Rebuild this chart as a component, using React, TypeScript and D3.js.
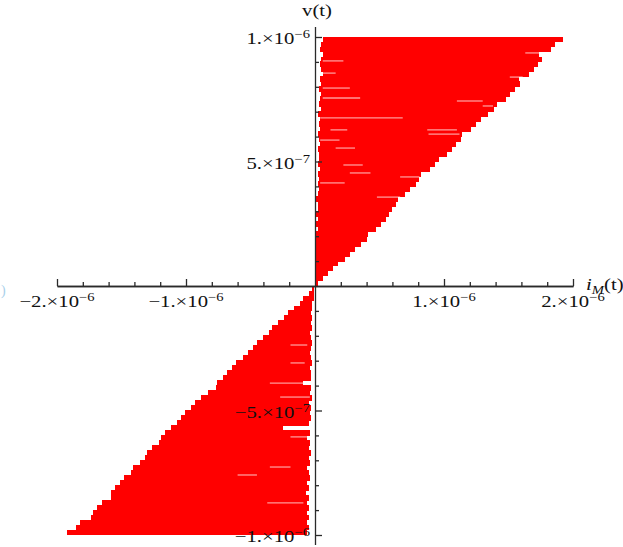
import React, { useEffect, useRef } from "react";
import * as d3 from "d3";

// all values are in units of 1e-6
// upper branch (v > 0): each stroke runs from upperLeft to upperRight at level upperV
const upperV = [0.99, 0.97, 0.95, 0.93, 0.91, 0.89, 0.87, 0.85, 0.83, 0.81, 0.79, 0.77, 0.75, 0.73, 0.71, 0.69, 0.67, 0.65, 0.63, 0.61, 0.59, 0.57, 0.55, 0.53, 0.51, 0.49, 0.47, 0.45, 0.43, 0.41, 0.39, 0.37, 0.35, 0.33, 0.31, 0.29, 0.27, 0.25, 0.23, 0.21, 0.19, 0.17, 0.15, 0.13, 0.11, 0.09, 0.07, 0.05, 0.03, 0.01];
const upperLeft = [0.06, 0.05, 0.04, 0.06, 0.05, 0.04, 0.05, 0.06, 0.04, 0.05, 0.03, 0.05, 0.04, 0.03, 0.05, 0.02, 0.04, 0.03, 0.04, 0.02, 0.03, 0.04, 0.02, 0.03, 0.03, 0.02, 0.04, 0.02, 0.03, 0.02, 0.03, 0.02, 0.01, 0.02, 0.02, 0.01, 0.02, 0.01, 0.02, 0.01, 0.01, 0.01, 0.01, 0.01, 0.01, 0.01, 0.01, 0.005, 0.005, 0.0];
const upperRight = [1.92, 1.86, 1.83, 1.74, 1.76, 1.73, 1.70, 1.66, 1.58, 1.59, 1.55, 1.51, 1.48, 1.41, 1.39, 1.34, 1.29, 1.25, 1.21, 1.14, 1.13, 1.09, 1.06, 1.02, 0.96, 0.93, 0.89, 0.82, 0.81, 0.78, 0.74, 0.70, 0.64, 0.63, 0.60, 0.57, 0.55, 0.51, 0.47, 0.41, 0.40, 0.36, 0.31, 0.27, 0.23, 0.18, 0.14, 0.10, 0.06, 0.02];

// lower branch (v < 0)
const lowerV = [-0.01, -0.03, -0.05, -0.07, -0.09, -0.11, -0.13, -0.15, -0.17, -0.19, -0.21, -0.23, -0.25, -0.27, -0.29, -0.31, -0.33, -0.35, -0.37, -0.39, -0.41, -0.43, -0.45, -0.47, -0.49, -0.51, -0.53, -0.55, -0.57, -0.59, -0.61, -0.63, -0.65, -0.67, -0.69, -0.71, -0.73, -0.75, -0.77, -0.79, -0.81, -0.83, -0.85, -0.87, -0.89, -0.91, -0.93, -0.95, -0.97, -0.99];
const lowerLeft = [-0.02, -0.05, -0.09, -0.12, -0.16, -0.21, -0.24, -0.29, -0.33, -0.36, -0.40, -0.45, -0.48, -0.52, -0.56, -0.61, -0.64, -0.68, -0.71, -0.76, -0.77, -0.83, -0.88, -0.93, -0.96, -1.01, -1.04, -1.07, -1.12, -1.16, -1.19, -1.21, -1.26, -1.30, -1.32, -1.36, -1.41, -1.43, -1.48, -1.51, -1.55, -1.58, -1.58, -1.65, -1.69, -1.72, -1.74, -1.82, -1.85, -1.92];
const lowerRight = [-0.005, -0.01, -0.01, -0.02, -0.02, -0.03, -0.02, -0.03, -0.02, -0.04, -0.03, -0.02, -0.03, -0.04, -0.03, -0.02, -0.04, -0.03, -0.03, -0.09, -0.03, -0.04, -0.02, -0.05, -0.03, -0.04, -0.03, -0.05, -0.25, -0.04, -0.06, -0.04, -0.05, -0.03, -0.05, -0.04, -0.06, -0.05, -0.04, -0.06, -0.05, -0.07, -0.05, -0.06, -0.05, -0.06, -0.05, -0.06, -0.05, -0.06];

// thin places where the trace leaves a gap
const gapV = [0.675, 0.904, 0.855, 0.795, 0.755, 0.743, 0.936, 0.839, 0.723, 0.627, 0.627, 0.610, 0.586, 0.554, 0.486, 0.454, 0.438, 0.414, 0.357, -0.390, -0.446, -0.606, -0.871, -0.759, -0.237, -0.309, -0.727];
const gapFrom = [0.04, 0.06, 0.06, 0.06, 0.06, 1.10, 1.63, 1.51, 1.30, 0.12, 0.87, 0.88, 0.04, 0.16, 0.22, 0.27, 0.66, 0.04, 0.48, -0.35, -0.27, -0.19, -0.37, -0.60, -0.19, -0.19, -0.35];
const gapTo = [0.68, 0.22, 0.16, 0.27, 0.35, 1.30, 1.77, 1.61, 1.38, 0.25, 1.10, 1.12, 0.19, 0.31, 0.37, 0.43, 0.81, 0.23, 0.66, -0.09, -0.04, -0.04, -0.09, -0.45, -0.06, -0.08, -0.19];

// ticks
const xMajor = [-2, -1, 1, 2];
const xMajorMant = ["\u22122.\u00d710", "\u22121.\u00d710", "1.\u00d710", "2.\u00d710"];
const xMajorExp = ["\u22126", "\u22126", "\u22126", "\u22126"];
const xMinor = [-1.8, -1.6, -1.4, -1.2, -0.8, -0.6, -0.4, -0.2, 0.2, 0.4, 0.6, 0.8, 1.2, 1.4, 1.6, 1.8];
const yMajor = [1, 0.5, -0.5, -1];
const yMajorMant = ["1.\u00d710", "5.\u00d710", "\u22125.\u00d710", "\u22121.\u00d710"];
const yMajorExp = ["\u22126", "\u22127", "\u22127", "\u22126"];
const yMinor = [-0.9, -0.8, -0.7, -0.6, -0.4, -0.3, -0.2, -0.1, 0.1, 0.2, 0.3, 0.4, 0.6, 0.7, 0.8, 0.9];

const W = 623;
const H = 547;
const RED = "#ff0000";
const AXIS = "#2a2a2a";
const FONT = "'Liberation Serif', 'Times New Roman', serif";
const SX = 1.22; // the picture is a bit wider than tall

const x = d3.scaleLinear().domain([-2, 2]).range([57, 573]);
const y = d3.scaleLinear().domain([-1, 1]).range([535, 37]);

function SupLabel({ px, py, anchor, mant, exp }) {
  return (
    <g transform={`translate(${px},${py}) scale(${SX},1)`}>
      <text textAnchor={anchor} fontFamily={FONT} fontSize={17} fill="#111">
        {mant}
        <tspan dy={-6} fontSize={12}>{exp}</tspan>
      </text>
    </g>
  );
}

export default function App() {
  const axRef = useRef(null);

  useEffect(() => {
    const g = d3.select(axRef.current);
    g.selectAll("*").remove();

    // x axis, ticks pointing up
    const xa = g.append("g").attr("transform", `translate(0,${y(0)})`);
    xa.append("g").call(d3.axisTop(x).tickValues(xMinor).tickSize(4).tickSizeOuter(0).tickFormat(() => ""));
    xa.append("g").call(d3.axisTop(x).tickValues(xMajor).tickSize(7).tickSizeOuter(0).tickFormat(() => ""));

    // y axis, ticks pointing right
    const ya = g.append("g").attr("transform", `translate(${x(0)},0)`);
    ya.append("g").call(d3.axisRight(y).tickValues(yMinor).tickSize(4).tickSizeOuter(0).tickFormat(() => ""));
    ya.append("g").call(d3.axisRight(y).tickValues(yMajor).tickSize(7).tickSizeOuter(0).tickFormat(() => ""));
    ya.selectAll(".domain").remove();
    ya.append("line")
      .attr("x1", 0.5).attr("x2", 0.5)
      .attr("y1", y(1.04)).attr("y2", y(-1.04))
      .attr("stroke", AXIS).attr("stroke-width", 1.3);

    g.selectAll(".domain").attr("stroke", AXIS).attr("stroke-width", 1.3);
    g.selectAll(".tick line").attr("stroke", AXIS).attr("stroke-width", 1.3);
  }, []);

  return (
    <svg width={W} height={H} style={{ position: "absolute", left: 0, top: 0, background: "#fff" }}>
      <g className="trace" shapeRendering="crispEdges">
        {upperV.map((v, i) => (
          <line key={"u" + i} x1={x(upperLeft[i])} x2={x(upperRight[i])} y1={y(v)} y2={y(v)} stroke={RED} strokeWidth={5.8} />
        ))}
        {lowerV.map((v, i) => (
          <line key={"l" + i} x1={x(lowerLeft[i])} x2={x(lowerRight[i])} y1={y(v)} y2={y(v)} stroke={RED} strokeWidth={5.8} />
        ))}
      </g>
      <g className="gaps">
        {gapV.map((v, i) => (
          <line key={"g" + i} x1={x(gapFrom[i])} x2={x(gapTo[i])} y1={y(v)} y2={y(v)} stroke="#fff" strokeOpacity={0.6} strokeWidth={1.3} />
        ))}
      </g>
      <g ref={axRef} className="axes" />
      <g className="labels">
        {xMajor.map((t, i) => (
          <SupLabel key={"xl" + i} px={x(t)} py={307} anchor="middle" mant={xMajorMant[i]} exp={xMajorExp[i]} />
        ))}
        {yMajor.map((t, i) => (
          <SupLabel key={"yl" + i} px={310} py={y(t) + 7} anchor="end" mant={yMajorMant[i]} exp={yMajorExp[i]} />
        ))}
        <g transform={`translate(317,16) scale(${SX},1)`}>
          <text textAnchor="middle" fontFamily={FONT} fontSize={17} fill="#111">v(t)</text>
        </g>
        <g transform={`translate(586,290) scale(${SX},1)`}>
          <text fontFamily={FONT} fontSize={17} fill="#111">
            <tspan fontStyle="italic">i</tspan>
            <tspan fontStyle="italic" fontSize={12} dy={4}>M</tspan>
            <tspan dy={-4}>(t)</tspan>
          </text>
        </g>
        <text x={1} y={295} fontFamily={FONT} fontSize={14} fill="#a8d0ea">)</text>
      </g>
    </svg>
  );
}
